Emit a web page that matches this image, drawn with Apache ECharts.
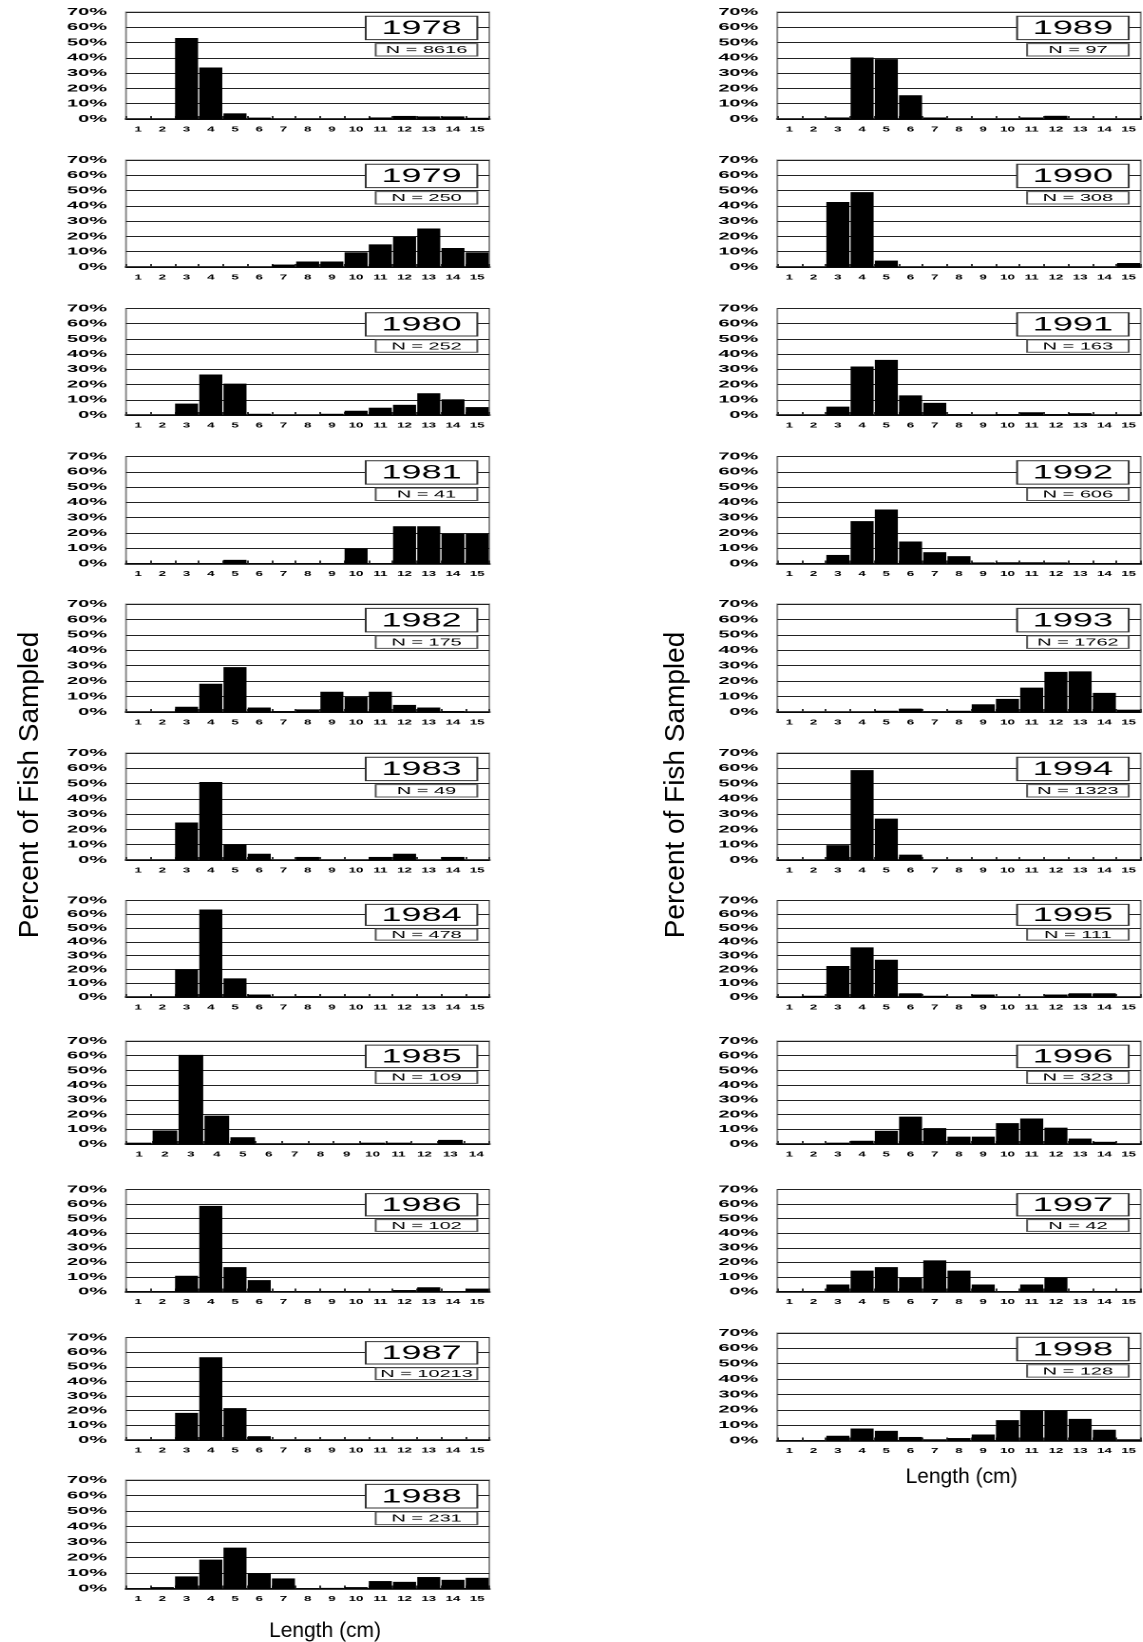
<!DOCTYPE html>
<html>
<head>
<meta charset="utf-8">
<script src="https://cdn.jsdelivr.net/npm/echarts@6/dist/echarts.min.js"></script>
<style>
  html, body { margin: 0; padding: 0; background: #fff; }
  #frame { width: 1143px; height: 1642px; overflow: hidden; position: relative; }
  #chart { height: 1642px; transform-origin: 0 0; }
</style>
</head>
<body>
<div id="frame"><div id="chart"></div></div>
<script>
// Length classes (cm) on the x axis
const lengths15 = ['1', '2', '3', '4', '5', '6', '7', '8', '9', '10', '11', '12', '13', '14', '15'];
const lengths14 = ['1', '2', '3', '4', '5', '6', '7', '8', '9', '10', '11', '12', '13', '14'];

// Sampling years and number of fish measured
const years = ['1978', '1979', '1980', '1981', '1982', '1983', '1984', '1985', '1986', '1987', '1988',
               '1989', '1990', '1991', '1992', '1993', '1994', '1995', '1996', '1997', '1998'];
const sampleSizes = [8616, 250, 252, 41, 175, 49, 478, 109, 102, 10213, 231,
                     97, 308, 163, 606, 1762, 1323, 111, 323, 42, 128];

// Percent of fish sampled in each length class
const pct1978 = [0, 0.3, 53, 33.7, 3.7, 0.9, 0.3, 0, 0, 0.3, 1, 2, 1.7, 1.7, 0.8];
const pct1979 = [0, 0, 0, 0, 0, 0, 1.6, 3.6, 3.6, 9.6, 14.8, 19.6, 25.2, 12.4, 9.6];
const pct1980 = [0, 0, 7.5, 26.6, 20.6, 0.8, 0, 0, 0.8, 2.8, 4.8, 6.7, 14.3, 10.3, 5.2];
const pct1981 = [0, 0, 0, 0, 2.4, 0, 0, 0, 0, 9.8, 0, 24.4, 24.4, 19.5, 19.5];
const pct1982 = [0, 0, 3.4, 18.3, 29.1, 2.9, 0.6, 1.7, 13.1, 9.7, 13.1, 4.6, 2.9, 0.6, 0.3];
const pct1983 = [0, 0, 24.5, 51, 10.2, 4.1, 0, 2, 0, 0, 2, 4.1, 0, 2, 0];
const pct1984 = [0, 0.2, 20, 63.5, 13.5, 1.8, 0, 0.6, 0, 0, 0, 0, 0, 0, 0];
const pct1985 = [0.9, 9.2, 60.6, 19.3, 4.6, 0, 0, 0, 0, 0.9, 0.9, 0, 2.8, 0];
const pct1986 = [0, 0, 10.8, 58.8, 16.7, 7.8, 0, 0, 0, 0, 0, 1, 2.9, 0, 2];
const pct1987 = [0, 0, 18.5, 56.5, 21.8, 2.6, 0, 0, 0, 0.2, 0.2, 0, 0, 0, 0];
const pct1988 = [0, 0.9, 7.8, 18.6, 26.4, 9.9, 6.5, 0, 0.4, 0.9, 4.8, 4.3, 7.4, 5.6, 6.9];
const pct1989 = [0, 0, 1, 40.2, 39.2, 15.5, 1, 0, 0, 0, 1, 2.1, 0, 0, 0];
const pct1990 = [0, 0, 42.5, 49, 4.2, 0, 0, 0, 0, 0.3, 0.3, 0.3, 0.3, 0, 2.6];
const pct1991 = [0, 0, 5.5, 31.9, 36.2, 12.9, 8, 0.6, 0, 0.6, 1.8, 0.6, 1.2, 0, 0];
const pct1992 = [0, 0, 5.6, 27.7, 35.3, 14.4, 7.4, 4.8, 0.7, 0.8, 0.8, 0.7, 0.3, 0.2, 0];
const pct1993 = [0, 0, 0, 0.2, 0.8, 2.2, 0.5, 0.8, 5, 8.5, 15.8, 26, 26.3, 12.4, 1.5];
const pct1994 = [0, 0, 9.7, 58.8, 27.1, 3.5, 0.2, 0, 0, 0.2, 0.2, 0.2, 0, 0.1, 0];
const pct1995 = [0, 0.9, 22.5, 36, 27, 2.7, 0.9, 0, 1.8, 0, 0, 1.8, 2.7, 2.7, 0];
const pct1996 = [0, 0, 0.9, 2.2, 9, 18.6, 10.8, 5, 5, 14.2, 17.3, 11.1, 3.7, 1.5, 0.3];
const pct1997 = [0, 0, 4.8, 14.3, 16.7, 9.5, 21.4, 14.3, 4.8, 0, 4.8, 9.5, 0, 0, 0];
const pct1998 = [0, 0, 3.1, 7.8, 6.3, 2.3, 0.8, 1.6, 3.9, 13.3, 19.5, 19.5, 14.1, 7, 0.8];

const percentByYear = [pct1978, pct1979, pct1980, pct1981, pct1982, pct1983, pct1984, pct1985,
                       pct1986, pct1987, pct1988, pct1989, pct1990, pct1991, pct1992, pct1993,
                       pct1994, pct1995, pct1996, pct1997, pct1998];
const categoriesByYear = years.map(y => (y === '1985' ? lengths14 : lengths15));

// The panel artwork is wide: the canvas is drawn narrow and stretched horizontally.
const STRETCH = 1.9;
const PAGE_W = 1143;
const chartEl = document.getElementById('chart');
chartEl.style.width = (PAGE_W / STRETCH) + 'px';
chartEl.style.transform = 'scaleX(' + STRETCH + ')';

// Panel frames in page pixels: two columns, one panel per year
const colLeft = [126, 777.3];
const colWidth = [363.3, 363.4];
const rowTop = [
  [12, 160, 308.5, 456.5, 604, 753, 900.5, 1041, 1189.5, 1337.5, 1480],
  [12, 160, 308.5, 456.5, 604, 753, 900.5, 1041, 1189.5, 1333]
];
const rowBottom = [
  [119, 267, 415, 563.5, 712, 860, 997, 1144, 1291.5, 1440, 1588.5],
  [119, 267, 415, 563.5, 712, 860, 997, 1144, 1291.5, 1440.5]
];

const FONT = 'Liberation Sans, Arial, sans-serif';
const grids = [], xAxes = [], yAxes = [], series = [], graphics = [];

years.forEach((year, i) => {
  const col = i < 11 ? 0 : 1;
  const row = col === 0 ? i : i - 11;
  const top = rowTop[col][row];
  const h = rowBottom[col][row] - top;
  const left = colLeft[col] / STRETCH;
  const w = colWidth[col] / STRETCH;

  grids.push({
    left: left, top: top, width: w, height: h,
    show: true, borderColor: '#8a8a8a', borderWidth: 1, backgroundColor: 'transparent'
  });
  xAxes.push({
    type: 'category', gridIndex: i, data: categoriesByYear[i],
    axisLine: { lineStyle: { color: '#000', width: 1.6 } },
    axisTick: { show: true, inside: true, length: 3, lineStyle: { color: '#333', width: 1 } },
    axisLabel: { interval: 0, fontSize: 7, fontWeight: 'bold', color: '#000', margin: 7, fontFamily: FONT }
  });
  yAxes.push({
    type: 'value', gridIndex: i, min: 0, max: 70, interval: 10,
    axisLine: { show: false }, axisTick: { show: false },
    splitLine: { lineStyle: { color: '#222', width: 1 } },
    axisLabel: { formatter: '{value}%', fontSize: 10.5, fontWeight: 'bold', color: '#000', margin: 10, fontFamily: FONT }
  });
  series.push({
    type: 'bar', xAxisIndex: i, yAxisIndex: i, data: percentByYear[i],
    barCategoryGap: '5%', itemStyle: { color: '#000' }, silent: true
  });

  // Year label box and sample size box in the upper right of each panel
  const right = (colLeft[col] + colWidth[col]) / STRETCH;
  const yearW = 111.6 / STRETCH, nW = 101.6 / STRETCH;
  const yearX = right - 12 / STRETCH - yearW;
  const nX = right - 12 / STRETCH - nW;
  const yearY = top + 0.04 * h, yearH = 0.218 * h;
  const nY = top + 0.295 * h, nH = 0.116 * h;
  graphics.push({
    type: 'rect', z: 100,
    shape: { x: yearX, y: yearY, width: yearW, height: yearH },
    style: { fill: '#fff', stroke: '#333', lineWidth: 1 }
  });
  graphics.push({
    type: 'text', z: 101, x: yearX + yearW / 2, y: yearY + yearH / 2 + 1,
    style: { text: year, fontSize: 19, fontFamily: FONT, fill: '#000', align: 'center', verticalAlign: 'middle' }
  });
  graphics.push({
    type: 'rect', z: 100,
    shape: { x: nX, y: nY, width: nW, height: nH },
    style: { fill: '#fff', stroke: '#555', lineWidth: 1 }
  });
  graphics.push({
    type: 'text', z: 101, x: nX + nW / 2, y: nY + nH / 2 + 0.5,
    style: { text: 'N = ' + sampleSizes[i], fontSize: 10.5, fontFamily: FONT, fill: '#000', align: 'center', verticalAlign: 'middle' }
  });
});

// Axis titles, kept at natural proportions by undoing the stretch
function plainText(text, px, py, size, rotated) {
  return {
    type: 'group', x: px / STRETCH, y: py, scaleX: 1 / STRETCH, z: 100,
    children: [{
      type: 'text', rotation: rotated ? Math.PI / 2 : 0,
      style: { text: text, fontSize: size, fontFamily: FONT, fill: '#000', align: 'center', verticalAlign: 'middle' }
    }]
  };
}
graphics.push(plainText('Percent of Fish Sampled', 30, 785, 28, true));
graphics.push(plainText('Percent of Fish Sampled', 676, 785, 28, true));
graphics.push(plainText('Length (cm)', 325, 1631, 21, false));
graphics.push(plainText('Length (cm)', 961.5, 1477, 21, false));

const chart = echarts.init(chartEl, null, { renderer: 'canvas', devicePixelRatio: 2 });
chart.setOption({
  animation: false,
  backgroundColor: '#fff',
  grid: grids,
  xAxis: xAxes,
  yAxis: yAxes,
  series: series,
  graphic: graphics
});
</script>
</body>
</html>
